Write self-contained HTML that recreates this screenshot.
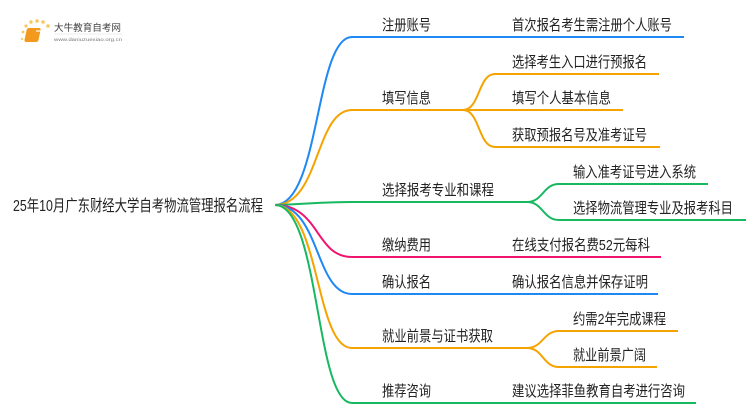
<!DOCTYPE html>
<html><head><meta charset="utf-8"><style>
html,body{margin:0;padding:0;background:#fff;}
svg text{font-family:"Liberation Sans","Noto Sans CJK SC",sans-serif;fill:#222;}
</style></head><body>
<svg width="750" height="410" viewBox="0 0 750 410" xmlns="http://www.w3.org/2000/svg">
<rect width="750" height="410" fill="#fff"/>
<g>
<circle cx="23" cy="32" r="1.4" fill="#f8c860"/><circle cx="26" cy="26" r="1.6" fill="#f8c860"/>
<circle cx="31" cy="22" r="1.7" fill="#f8c860"/><circle cx="37" cy="21" r="1.8" fill="#f8c860"/>
<circle cx="43" cy="22" r="1.8" fill="#f8c860"/><circle cx="48" cy="26" r="1.8" fill="#f8c860"/>
<circle cx="22" cy="39" r="1.2" fill="#f8d070"/>
<rect x="33" y="28" width="14" height="14" rx="2" fill="#f39a1e" transform="skewX(-12)"/>
<rect x="36" y="30" width="9" height="2" fill="#fff" opacity="0.6"/>
<text x="54" y="31" font-size="9.5" textLength="67" lengthAdjust="spacingAndGlyphs" style="fill:#444">大牛教育自考网</text>
<line x1="54" y1="34" x2="122" y2="34" stroke="#ddd" stroke-width="0.5"/>
<text x="54" y="41" font-size="4.5" textLength="68" lengthAdjust="spacingAndGlyphs" style="fill:#777">www.daniuzuexiao.org.cn</text>
</g>
<text x="13" y="211" font-size="16" textLength="250" lengthAdjust="spacingAndGlyphs">25年10月广东财经大学自考物流管理报名流程</text>
<g fill="none" stroke-width="2">
<path d="M275 205 C320 205,315 37,352 37 L684 37" stroke="#1e88f5"/>
<path d="M275 205 C320 205,315 110,352 110 L463 110" stroke="#f5a300"/>
<path d="M463 110 C480 110,478 74,495 74 L659 74" stroke="#f5a300"/>
<path d="M463 110 L623 110" stroke="#f5a300"/>
<path d="M463 110 C480 110,478 147,495 147 L660 147" stroke="#f5a300"/>
<path d="M275 205 C310 204,320 202,352 202 L527 202" stroke="#16b860"/>
<path d="M527 202 C543 202,543 184,559 184 L708 184" stroke="#16b860"/>
<path d="M527 202 C543 202,543 220,559 220 L746 220" stroke="#16b860"/>
<path d="M275 205 C320 205,315 257,352 257 L661 257" stroke="#f0146e"/>
<path d="M275 205 C320 205,315 294,352 294 L658 294" stroke="#1e88f5"/>
<path d="M275 205 C320 205,315 348,352 348 L527 348" stroke="#f5a300"/>
<path d="M527 348 C543 348,543 331,559 331 L678 331" stroke="#f5a300"/>
<path d="M527 348 C543 348,543 367,559 367 L657 367" stroke="#f5a300"/>
<path d="M275 205 C320 205,315 403,352 403 L696 403" stroke="#16b860"/>
</g>
<g font-size="15">
<text x="382" y="30" textLength="49" lengthAdjust="spacingAndGlyphs">注册账号</text>
<text x="512" y="30" textLength="160" lengthAdjust="spacingAndGlyphs">首次报名考生需注册个人账号</text>
<text x="382" y="103" textLength="49" lengthAdjust="spacingAndGlyphs">填写信息</text>
<text x="512" y="67" textLength="135" lengthAdjust="spacingAndGlyphs">选择考生入口进行预报名</text>
<text x="512" y="103" textLength="99" lengthAdjust="spacingAndGlyphs">填写个人基本信息</text>
<text x="512" y="140" textLength="135" lengthAdjust="spacingAndGlyphs">获取预报名号及准考证号</text>
<text x="382" y="195" textLength="112" lengthAdjust="spacingAndGlyphs">选择报考专业和课程</text>
<text x="573" y="177" textLength="123" lengthAdjust="spacingAndGlyphs">输入准考证号进入系统</text>
<text x="573" y="213" textLength="160" lengthAdjust="spacingAndGlyphs">选择物流管理专业及报考科目</text>
<text x="382" y="250" textLength="49" lengthAdjust="spacingAndGlyphs">缴纳费用</text>
<text x="512" y="250" textLength="138" lengthAdjust="spacingAndGlyphs">在线支付报名费52元每科</text>
<text x="382" y="287" textLength="49" lengthAdjust="spacingAndGlyphs">确认报名</text>
<text x="512" y="287" textLength="136" lengthAdjust="spacingAndGlyphs">确认报名信息并保存证明</text>
<text x="382" y="341" textLength="111" lengthAdjust="spacingAndGlyphs">就业前景与证书获取</text>
<text x="573" y="324" textLength="93" lengthAdjust="spacingAndGlyphs">约需2年完成课程</text>
<text x="573" y="360" textLength="73" lengthAdjust="spacingAndGlyphs">就业前景广阔</text>
<text x="382" y="396" textLength="49" lengthAdjust="spacingAndGlyphs">推荐咨询</text>
<text x="512" y="396" textLength="173" lengthAdjust="spacingAndGlyphs">建议选择菲鱼教育自考进行咨询</text>
</g>
</svg>
</body></html>
